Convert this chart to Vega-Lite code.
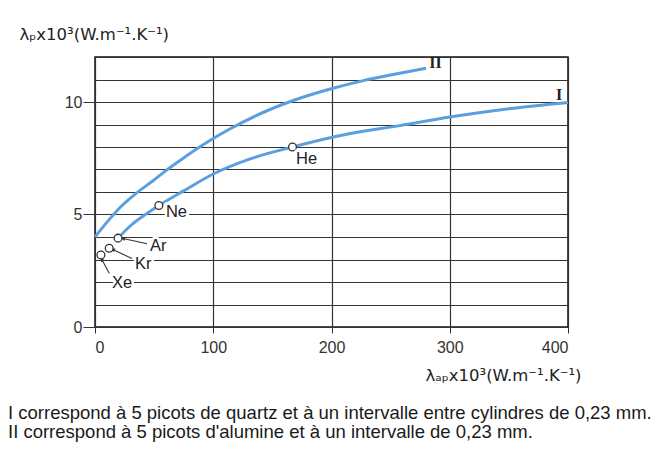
{
  "$schema": "https://vega.github.io/schema/vega-lite/v6.json",
  "width": 473,
  "height": 270,
  "autosize": "none",
  "padding": {"left": 95, "top": 57, "right": 87, "bottom": 130},
  "background": "white",
  "config": {
    "view": {"stroke": "#111111", "strokeWidth": 1.5},
    "font": "Liberation Sans"
  },
  "title": {
    "text": [
      "I correspond à 5 picots de quartz et à un intervalle entre cylindres de 0,23 mm.",
      "II correspond à 5 picots d'alumine et à un intervalle de 0,23 mm."
    ],
    "orient": "bottom",
    "anchor": "start",
    "frame": "group",
    "dx": -87,
    "offset": 20,
    "baseline": "top",
    "lineHeight": 19,
    "fontSize": 18.5,
    "fontWeight": "normal",
    "font": "Liberation Sans",
    "color": "#1a1a1a"
  },
  "datasets": {
    "curves": [
      {"serie": "I", "x": 19.5, "y": 3.95},
      {"serie": "I", "x": 30, "y": 4.5},
      {"serie": "I", "x": 44, "y": 5.05},
      {"serie": "I", "x": 54, "y": 5.4},
      {"serie": "I", "x": 75, "y": 6.05},
      {"serie": "I", "x": 100, "y": 6.8},
      {"serie": "I", "x": 130, "y": 7.45},
      {"serie": "I", "x": 167, "y": 8.0},
      {"serie": "I", "x": 216, "y": 8.6},
      {"serie": "I", "x": 258, "y": 8.95},
      {"serie": "I", "x": 300, "y": 9.33},
      {"serie": "I", "x": 350, "y": 9.7},
      {"serie": "I", "x": 400, "y": 9.98},
      {"serie": "II", "x": 0, "y": 4.0},
      {"serie": "II", "x": 10, "y": 4.65},
      {"serie": "II", "x": 21, "y": 5.3},
      {"serie": "II", "x": 35, "y": 5.95},
      {"serie": "II", "x": 49, "y": 6.5},
      {"serie": "II", "x": 57.5, "y": 6.85},
      {"serie": "II", "x": 70, "y": 7.33},
      {"serie": "II", "x": 84.6, "y": 7.87},
      {"serie": "II", "x": 100, "y": 8.38},
      {"serie": "II", "x": 114, "y": 8.8},
      {"serie": "II", "x": 145, "y": 9.6},
      {"serie": "II", "x": 175, "y": 10.2},
      {"serie": "II", "x": 199, "y": 10.58},
      {"serie": "II", "x": 227, "y": 10.95},
      {"serie": "II", "x": 250, "y": 11.2},
      {"serie": "II", "x": 280, "y": 11.5}
    ],
    "gases": [
      {"gaz": "Xe", "x": 5, "y": 3.2, "lx": 14.4, "ly": 1.96},
      {"gaz": "Kr", "x": 12, "y": 3.5, "lx": 33.8, "ly": 2.81},
      {"gaz": "Ar", "x": 19.5, "y": 3.95, "lx": 46.5, "ly": 3.62},
      {"gaz": "Ne", "x": 54, "y": 5.4, "lx": 60, "ly": 5.09},
      {"gaz": "He", "x": 167, "y": 8.0, "lx": 170, "ly": 7.46}
    ],
    "leaders": [
      {"gaz": "Ar", "x1": 44, "y1": 3.7, "x2": 23.7, "y2": 3.93},
      {"gaz": "Kr", "x1": 31.3, "y1": 3.04, "x2": 15.2, "y2": 3.44},
      {"gaz": "Xe", "x1": 12.7, "y1": 2.32, "x2": 5.9, "y2": 2.99}
    ],
    "series": [
      {"serie": "I", "x": 392.4, "y": 10.3},
      {"serie": "II", "x": 288, "y": 11.75}
    ]
  },
  "layer": [
    {
      "data": {"name": "curves"},
      "mark": {"type": "line", "interpolate": "monotone", "color": "#5b9fdf", "strokeWidth": 3},
      "encoding": {
        "x": {
          "field": "x", "type": "quantitative",
          "scale": {"domain": [0, 400], "nice": false, "zero": false},
          "axis": {
            "values": [0, 100, 200, 300, 400],
            "tickCount": 20,
            "format": "d",
            "grid": true, "gridColor": "#333333", "gridWidth": 1.2, "gridOpacity": 1,
            "domain": false,
            "tickColor": "#333333", "tickSize": 6,
            "labelFontSize": 16, "labelColor": "#333333", "labelPadding": 6,
            "title": "λₐₚx10³(W.m⁻¹.K⁻¹)",
            "titleFont": "DejaVu Sans",
            "titleFontSize": 16.5, "titleFontWeight": "normal", "titleColor": "#222222",
            "titleAngle": 0, "titleAlign": "left", "titleBaseline": "middle",
            "titleX": 330, "titleY": 48
          }
        },
        "y": {
          "field": "y", "type": "quantitative",
          "scale": {"domain": [0, 12], "nice": false, "zero": false},
          "axis": {
            "values": [0, 1, 2, 3, 4, 5, 6, 7, 8, 9, 10, 11, 12],
            "tickCount": 20,
            "format": "d",
            "labelOverlap": false,
            "labelExpr": "datum.value % 5 === 0 ? datum.label : ''",
            "grid": true, "gridColor": "#333333", "gridWidth": 1.2, "gridOpacity": 1,
            "domain": false,
            "tickColor": "#333333", "tickSize": 12,
            "tickOpacity": {"condition": {"test": "datum.value % 5 === 0", "value": 1}, "value": 0},
            "labelFontSize": 16, "labelColor": "#333333", "labelPadding": 1,
            "title": "λₚx10³(W.m⁻¹.K⁻¹)",
            "titleFont": "DejaVu Sans",
            "titleFontSize": 16.5, "titleFontWeight": "normal", "titleColor": "#222222",
            "titleAngle": 0, "titleAlign": "left", "titleBaseline": "middle",
            "titleX": -76, "titleY": -23
          }
        },
        "detail": {"field": "serie", "type": "nominal"}
      }
    },
    {
      "data": {"name": "leaders"},
      "mark": {"type": "rule", "color": "#333333", "strokeWidth": 1.1},
      "encoding": {
        "x": {"field": "x1", "type": "quantitative"},
        "y": {"field": "y1", "type": "quantitative"},
        "x2": {"field": "x2"},
        "y2": {"field": "y2"}
      }
    },
    {
      "data": {"name": "leaders"},
      "transform": [{"filter": "datum.gaz === 'Ar'"}],
      "mark": {"type": "point", "shape": "triangle-left", "filled": true, "color": "#333333", "size": 18, "angle": 12, "opacity": 1},
      "encoding": {
        "x": {"field": "x2", "type": "quantitative"},
        "y": {"field": "y2", "type": "quantitative"}
      }
    },
    {
      "data": {"name": "leaders"},
      "transform": [{"filter": "datum.gaz === 'Kr'"}],
      "mark": {"type": "point", "shape": "triangle-left", "filled": true, "color": "#333333", "size": 18, "angle": 25, "opacity": 1},
      "encoding": {
        "x": {"field": "x2", "type": "quantitative"},
        "y": {"field": "y2", "type": "quantitative"}
      }
    },
    {
      "data": {"name": "leaders"},
      "transform": [{"filter": "datum.gaz === 'Xe'"}],
      "mark": {"type": "point", "shape": "triangle-left", "filled": true, "color": "#333333", "size": 18, "angle": 62, "opacity": 1},
      "encoding": {
        "x": {"field": "x2", "type": "quantitative"},
        "y": {"field": "y2", "type": "quantitative"}
      }
    },
    {
      "data": {"name": "gases"},
      "mark": {"type": "point", "shape": "circle", "filled": true, "fill": "white", "stroke": "#333333", "strokeWidth": 1.3, "size": 60, "opacity": 1},
      "encoding": {
        "x": {"field": "x", "type": "quantitative"},
        "y": {"field": "y", "type": "quantitative"}
      }
    },
    {
      "data": {"name": "gases"},
      "mark": {"type": "text", "align": "left", "baseline": "middle", "fontSize": 16.5, "fill": "white", "stroke": "white", "strokeWidth": 5},
      "encoding": {
        "x": {"field": "lx", "type": "quantitative"},
        "y": {"field": "ly", "type": "quantitative"},
        "text": {"field": "gaz"}
      }
    },
    {
      "data": {"name": "gases"},
      "mark": {"type": "text", "align": "left", "baseline": "middle", "fontSize": 16.5, "color": "#222222"},
      "encoding": {
        "x": {"field": "lx", "type": "quantitative"},
        "y": {"field": "ly", "type": "quantitative"},
        "text": {"field": "gaz"}
      }
    },
    {
      "data": {"name": "series"},
      "mark": {"type": "text", "align": "center", "baseline": "middle", "fontSize": 16, "font": "Liberation Serif", "fontWeight": "bold", "color": "#222222"},
      "encoding": {
        "x": {"field": "x", "type": "quantitative"},
        "y": {"field": "y", "type": "quantitative"},
        "text": {"field": "serie"}
      }
    }
  ]
}
